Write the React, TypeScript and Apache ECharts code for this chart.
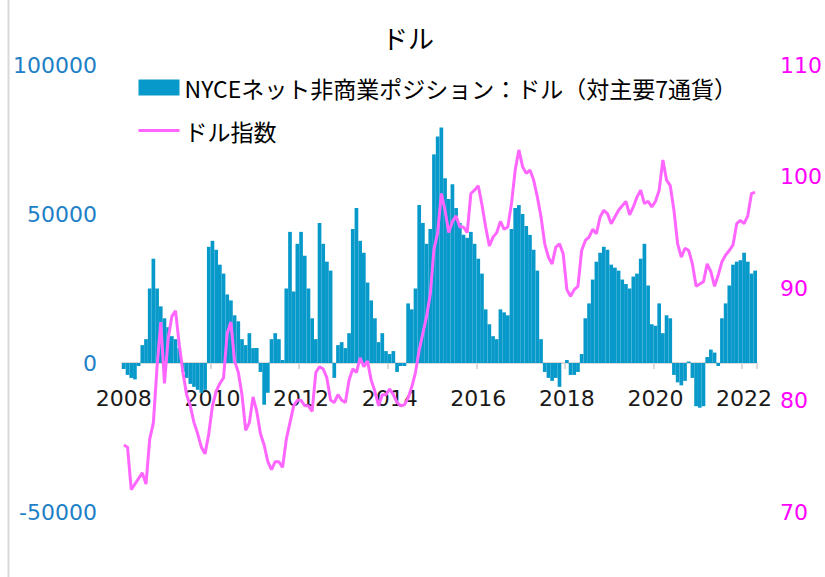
import React, { useEffect, useRef } from "react";
import * as echarts from "echarts";

// Monthly categories, Jan 2008 .. Apr 2022
const START_YEAR = 2008;
const MONTH_COUNT = 172;
const months: string[] = [];
for (let i = 0; i < MONTH_COUNT; i++) {
  const y = START_YEAR + Math.floor(i / 12);
  const m = (i % 12) + 1;
  months.push(`${y}-${String(m).padStart(2, "0")}`);
}

const titleText = "ドル";
const barName = "NYCEネット非商業ポジション：ドル（対主要7通貨）";
const lineName = "ドル指数";

// NYCE net non-commercial positions (left axis)
const netPositions: number[] = [
  // 2008
  -2000, -4000, -5000, -5500, -1000, 6000, 8000, 25000, 35000, 25000, 19000, 15000,
  // 2009
  12000, 9000, 8000, 5000, -3000, -5000, -7000, -8000, -9000, -10000, -9000, 39000,
  // 2010
  41000, 38000, 33000, 30000, 23000, 21000, 16000, 14000, 8000, 6000, 10000, 5000,
  // 2011
  5000, -3000, -14000, -10000, 8000, 10000, 8000, 1000, 25000, 44000, 24000, 40000,
  // 2012
  44000, 36000, 25000, 15000, 8000, 47000, 40000, 34000, 31000, -5000, 6000, 7000,
  // 2013
  5000, 10000, 45000, 52000, 41000, 37000, 27000, 21000, 15000, 7000, 10000, 4000,
  // 2014
  3000, 4000, -3000, -1000, -1000, 20000, 18000, 25000, 53000, 47000, 40000, 45000,
  // 2015
  70000, 76000, 79000, 62000, 55000, 60000, 52000, 47000, 43000, 42000, 44000, 40000,
  // 2016
  35000, 30000, 18000, 13000, 9000, 8000, 18000, 17000, 16000, 45000, 52000, 53000,
  // 2017
  50000, 46000, 43000, 38000, 31000, 8000, -3000, -5000, -6000, -5000, -8000, 0,
  // 2018
  1000, -4000, -4000, -3000, 3000, 15000, 20000, 28000, 34000, 37000, 39000, 38000,
  // 2019
  33000, 32000, 31000, 28000, 26500, 25000, 29000, 30000, 35000, 40000, 26000, 13000,
  // 2020
  12500, 20000, 10000, 16000, 15000, -4000, -6500, -7500, -6000, 500, -5000, -14500,
  // 2021
  -15000, -14500, 2000, 4500, 3500, -1000, 15000, 20000, 26000, 33000, 34000, 34500,
  // 2022
  37000, 34000, 30000, 31000,
];

// Dollar index (right axis)
const dollarIndex: number[] = [
  // 2008
  76.0, 75.8, 72.0, 72.5, 73.0, 73.5, 72.5, 76.5, 78.0, 83.0, 87.0, 81.5,
  // 2009
  85.5, 87.5, 88.0, 85.0, 82.5, 80.5, 79.5, 78.0, 77.0, 75.8, 75.2, 77.0,
  // 2010
  79.5, 80.8, 81.5, 82.0, 86.0, 87.0, 83.5, 82.5, 80.5, 77.3, 78.0, 80.3,
  // 2011
  79.0, 77.0, 76.0, 74.5, 73.8, 74.5, 74.5, 74.0, 76.5, 78.0, 79.5, 80.0,
  // 2012
  80.0, 79.5, 79.5, 79.0, 82.5, 83.0, 82.8, 82.0, 80.0, 79.8, 80.5, 80.0,
  // 2013
  79.8, 81.8, 82.8, 82.5, 83.8, 83.0, 83.5, 81.8, 80.8, 79.5, 80.5, 80.5,
  // 2014
  81.0, 80.5, 79.8, 79.5, 79.6, 80.2, 81.2, 82.5, 84.5, 86.0, 87.5, 89.5,
  // 2015
  93.5, 95.0, 98.5, 97.0, 95.0, 96.0, 96.5, 95.5, 95.5, 95.0, 98.5, 98.8,
  // 2016
  99.2, 97.5, 95.5, 93.8, 94.6, 95.0, 96.0, 95.3, 95.5, 97.6, 100.6, 102.4,
  // 2017
  100.9, 100.3, 100.6, 99.7, 98.2, 96.4, 94.0, 92.8, 92.2, 93.7, 94.0, 93.1,
  // 2018
  89.9, 89.3, 89.9, 90.2, 93.4, 94.3, 94.6, 95.3, 94.9, 96.4, 97.0, 96.7,
  // 2019
  95.8, 96.4, 97.0, 97.4, 97.8, 96.6, 97.3, 98.2, 98.8, 97.6, 97.8, 97.3,
  // 2020
  97.8, 98.8, 101.5, 99.7, 99.2, 97.0, 94.0, 92.8, 93.6, 93.4, 92.2, 90.2,
  // 2021
  90.4, 90.6, 92.2, 91.5, 90.2, 91.2, 92.4, 93.0, 93.4, 93.9, 95.8, 96.1,
  // 2022
  95.8, 96.5, 98.5, 98.6,
];

const leftAxisTicks = [-50000, 0, 50000, 100000];
const rightAxisTicks = [70, 80, 90, 100, 110];

const JP_FONT = "'Noto Sans CJK JP', 'Noto Sans', sans-serif";
const NUM_FONT = "'DejaVu Sans', sans-serif";

const GRID_TOP = 65;
const GRID_BOTTOM = 65;
const CHART_H = 577;

export default function App() {
  const ref = useRef<HTMLDivElement | null>(null);

  useEffect(() => {
    if (!ref.current) return;
    const chart = echarts.init(ref.current, undefined, { renderer: "svg" });

    const isEvenYearStart = (index: number) => index % 24 === 0;

    // place category axis at the left axis' zero level
    const lMin = leftAxisTicks[0];
    const lMax = leftAxisTicks[leftAxisTicks.length - 1];
    const plotH = CHART_H - GRID_TOP - GRID_BOTTOM;
    const zeroOffset = -Math.round((plotH * (0 - lMin)) / (lMax - lMin));

    chart.setOption({
      animation: false,
      textStyle: { fontFamily: JP_FONT },
      title: {
        text: titleText,
        left: 382,
        top: 24,
        padding: 0,
        textStyle: { fontSize: 26, fontWeight: "normal", color: "#000", fontFamily: JP_FONT },
      },
      legend: {
        orient: "vertical",
        left: 137,
        top: 76,
        padding: 0,
        itemWidth: 41,
        itemHeight: 16,
        itemGap: 20,
        textStyle: { fontSize: 23, color: "#000", fontFamily: JP_FONT },
        data: [
          { name: barName, icon: "rect" },
          { name: lineName, itemStyle: { opacity: 0 }, lineStyle: { width: 3, color: "#FF66FF" } },
        ],
      },
      grid: { left: 122, right: 61, top: GRID_TOP, bottom: GRID_BOTTOM },
      xAxis: {
        type: "category",
        data: months,
        boundaryGap: true,
        position: "bottom",
        offset: zeroOffset,
        axisLine: { onZero: false, lineStyle: { color: "#D9D9D9", width: 2 } },
        axisTick: {
          show: true,
          interval: (index: number) => isEvenYearStart(index),
          length: 6,
          lineStyle: { color: "#D9D9D9", width: 2 },
        },
        axisLabel: {
          interval: (index: number) => isEvenYearStart(index),
          formatter: (v: string) => v.slice(0, 4),
          margin: 24,
          fontSize: 22,
          color: "#1a1a1a",
          fontFamily: NUM_FONT,
        },
        splitLine: { show: false },
      },
      yAxis: [
        {
          type: "value",
          position: "left",
          min: lMin,
          max: lMax,
          interval: leftAxisTicks[1] - leftAxisTicks[0],
          axisLine: { show: false },
          axisTick: { show: false },
          splitLine: { show: false },
          axisLabel: {
            margin: 25,
            fontSize: 22,
            color: "#1E80C6",
            fontFamily: NUM_FONT,
            formatter: (v: number) => String(v),
          },
        },
        {
          type: "value",
          position: "right",
          min: rightAxisTicks[0],
          max: rightAxisTicks[rightAxisTicks.length - 1],
          interval: rightAxisTicks[1] - rightAxisTicks[0],
          axisLine: { show: false },
          axisTick: { show: false },
          splitLine: { show: false },
          axisLabel: {
            margin: 23,
            fontSize: 22,
            color: "#FF00FF",
            fontFamily: NUM_FONT,
            formatter: (v: number) => String(v),
          },
        },
      ],
      series: [
        {
          name: barName,
          type: "bar",
          yAxisIndex: 0,
          data: netPositions,
          barCategoryGap: "0%",
          itemStyle: { color: "#0799CA" },
        },
        {
          name: lineName,
          type: "line",
          yAxisIndex: 1,
          data: dollarIndex,
          symbol: "none",
          showSymbol: false,
          lineStyle: { color: "#FF66FF", width: 3 },
          itemStyle: { color: "#FF66FF" },
        },
      ],
      graphic: [
        {
          type: "line",
          shape: { x1: 8.5, y1: 0, x2: 8.5, y2: 577 },
          style: { stroke: "#D9D9D9", lineWidth: 2 },
          silent: true,
        },
      ],
    });

    return () => chart.dispose();
  }, []);

  return (
    <div
      ref={ref}
      style={{ position: "fixed", left: 0, top: 0, width: 825, height: 577, background: "#fff" }}
    />
  );
}
